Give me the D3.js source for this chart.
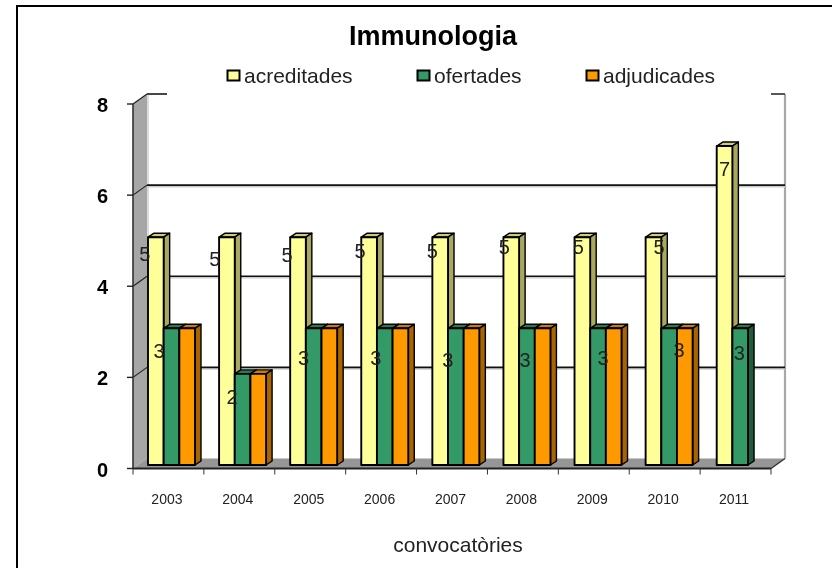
<!DOCTYPE html>
<html><head><meta charset="utf-8">
<script src="https://cdn.jsdelivr.net/npm/d3@7"></script>
<style>html,body{margin:0;padding:0;background:#fff}svg{display:block;filter:blur(0.35px)}text{font-family:"Liberation Sans",Arial,sans-serif}</style>
</head><body><div id="c"></div>
<script>
const categories=["2003","2004","2005","2006","2007","2008","2009","2010","2011"];
const seriesNames=["acreditades","ofertades","adjudicades"];
const acreditades=[5,5,5,5,5,5,5,5,7];
const ofertades=[3,2,3,3,3,3,3,3,3];
const adjudicades=[3,2,3,3,3,3,3,3,0];
const yTicks=[0,2,4,6,8];
const title="Immunologia", xTitle="convocatòries";

// Hand-placed data labels in the original: offsets from each bar's centre / value height
const labelNudgeA=[[-11,20],[-12,25],[-11,21],[-9,17],[-8,17],[-7,13],[-4,13],[5.5,13],[0,26]];
const labelNudgeO=[[-12.5,26],[-10.6,27],[-10,33],[-9,33],[-8,35],[-2,35],[5,33],[10,25],[-1,28]];

const W=832,H=568;
const svg=d3.select("#c").append("svg").attr("width",W).attr("height",H);
const colors=["#FFFF99","#339966","#FF9900"];
const sides=["#A8A860","#1F5C3D","#A86400"];
const tops=["#CCCC7A","#287A52","#CC7A00"];
const dx=14,dy=-10, bdx=6,bdy=-4, py=-3.5;

const x=d3.scaleBand().domain(categories).range([133,771]);
const y=d3.scaleLinear().domain([0,8]).range([468.5,104]);
const bx=d3.scaleBand().domain(seriesNames).range([0,47]);

const line=(a,b,c,w)=>svg.append("line").attr("x1",a[0]).attr("y1",a[1]).attr("x2",b[0]).attr("y2",b[1]).attr("stroke",c).attr("stroke-width",w);
const poly=(pts,f,s,w)=>svg.append("polygon").attr("points",pts.map(p=>p.join(",")).join(" ")).attr("fill",f).attr("stroke",s||"none").attr("stroke-width",w||1).attr("stroke-linejoin","round");

// outer frame: only top and left edges are visible in the crop
line([16,6],[W,6],"#000",2);
line([17,5],[17,H],"#000",2);

const [xL,xR]=x.range();
poly([[xL,y(0)],[xL+dx,y(0)+dy],[xL+dx,y(8)+dy],[xL,y(8)]],"#a6a6a6");
poly([[xL,y(0)],[xL+dx,y(0)+dy],[xR+dx,y(0)+dy],[xR,y(0)]],"#969696");
line([xR+dx,y(0)+dy],[xR+dx,y(8)+dy],"#a8a8a8",2.2);
line([xL+dx+1,y(0)+dy],[xL+dx+1,y(8)+dy],"#d0d0d0",1.5);
yTicks.forEach(t=>{
  const g=y(t);
  if(t>0&&t<8){ line([xL+dx,g+dy+1.5],[xR+dx,g+dy+1.5],"#ccc",1.5); line([xL+dx,g+dy],[xR+dx,g+dy],"#111",1.6); }
  if(t===8){ line([xL+dx,g+dy],[xL+dx+20,g+dy],"#333",1.8); line([xR,g+dy],[xR+dx,g+dy],"#444",1.8); }
  if(t>0) line([xL,g],[xL+dx,g+dy],"#222",1.2);
});
line([xL,y(0)],[xL,y(8)],"#333",1.6);
line([xL,y(0)],[xR,y(0)],"#222",1.8);
line([xR,y(0)],[xR+dx,y(0)+dy],"#333",1.4);
yTicks.forEach(t=>{
  line([xL-6,y(t)],[xL,y(t)],"#222",1.4);
  svg.append("text").attr("x",108).attr("y",y(t)+8).attr("text-anchor","end").attr("font-size",20).attr("font-weight","bold").text(t);
});
categories.forEach(c=>line([x(c),y(0)],[x(c),y(0)+6],"#333",1));
line([xR,y(0)],[xR,y(0)+6],"#333",1);
svg.selectAll("text.cat").data(categories).join("text").attr("class","cat")
  .attr("x",c=>x(c)+x.bandwidth()/2-1.5).attr("y",504).attr("text-anchor","middle").attr("font-size",14).attr("fill","#222").text(c=>c);

const series=[acreditades,ofertades,adjudicades];
categories.forEach((c,i)=>{
  series.forEach((vals,s)=>{
    const v=vals[i]; if(!v) return;
    const x0=x(c)+15+i*0.2+bx(seriesNames[s]), w=bx.bandwidth(), y0=y(0)+py, yt=y(v)+py;
    poly([[x0,yt],[x0+bdx,yt+bdy],[x0+w+bdx,yt+bdy],[x0+w,yt]],tops[s],"#000",1.4);
    poly([[x0+w,yt],[x0+w+bdx,yt+bdy],[x0+w+bdx,y0+bdy],[x0+w,y0]],sides[s],"#000",1.4);
    poly([[x0,yt],[x0+w,yt],[x0+w,y0],[x0,y0]],colors[s],"#000",1.9);
  });
});
categories.forEach((c,i)=>{
  const cx=x(c)+15+i*0.2+bx.bandwidth()/2;
  [[acreditades,labelNudgeA],[ofertades,labelNudgeO]].forEach(([vals,n],s)=>{
    svg.append("text").attr("x",cx+bx.bandwidth()*s+n[i][0]).attr("y",y(vals[i])+n[i][1])
      .attr("text-anchor","middle").attr("font-size",20).attr("fill","#222").text(vals[i]);
  });
});

svg.append("text").attr("x",433).attr("y",45).attr("text-anchor","middle").attr("font-size",27).attr("font-weight","bold").text(title);
const legendX=[227,417,586];
seriesNames.forEach((n,i)=>{
  svg.append("rect").attr("x",legendX[i]+.5).attr("y",70.5).attr("width",12).attr("height",10).attr("fill",colors[i]).attr("stroke","#000").attr("stroke-width",2);
  svg.append("text").attr("x",legendX[i]+17).attr("y",83).attr("font-size",21).attr("fill","#222").text(n);
});
svg.append("text").attr("x",458).attr("y",552).attr("text-anchor","middle").attr("font-size",21).attr("fill","#222").text(xTitle);
</script></body></html>
